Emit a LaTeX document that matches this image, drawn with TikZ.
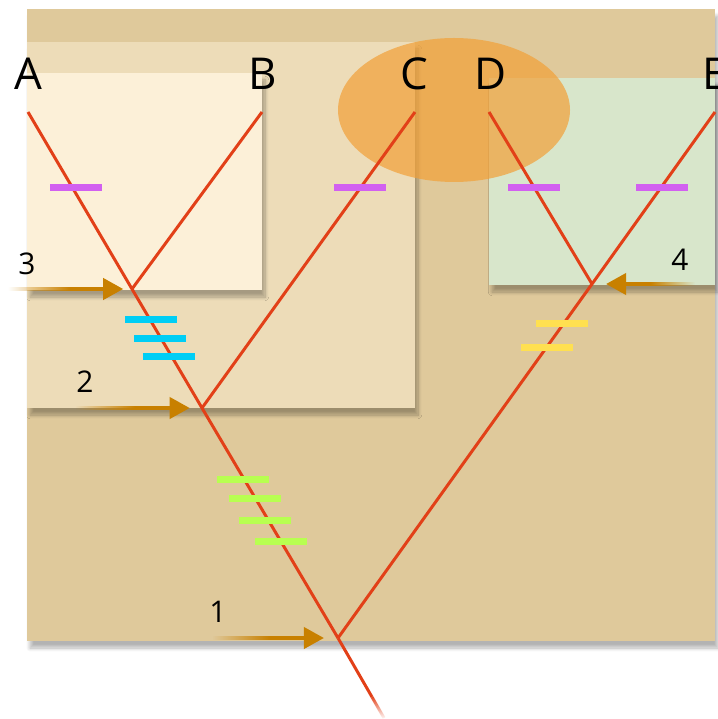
\documentclass[tikz,border=0pt]{standalone}
\usepackage{fontspec}
\setmainfont{Open Sans}
\usepackage{tikz}
\usetikzlibrary{arrows.meta,calc,fadings,shadows.blur}
\definecolor{outertan}{RGB}{223,201,155}
\definecolor{middletan}{RGB}{237,220,184}
\definecolor{innercream}{RGB}{252,240,216}
\definecolor{softgreen}{RGB}{216,230,203}
\definecolor{bloborange}{RGB}{242,160,55}
\definecolor{branchred}{RGB}{226,64,24}
\definecolor{arrowgold}{RGB}{200,128,0}
\definecolor{tickpink}{RGB}{210,96,240}
\definecolor{tickcyan}{RGB}{0,206,245}
\definecolor{ticklime}{RGB}{184,255,80}
\definecolor{tickyellow}{RGB}{255,224,80}
\tikzfading[name=tailfade,left color=transparent!100,right color=transparent!0]
\tikzset{
  panel/.style={draw=none,blur shadow={shadow xshift=0.6mm,
    shadow yshift=-1.4mm,shadow blur steps=10,shadow opacity=30}},
  branch/.style={draw=branchred,line width=1.7pt},
  taxon/.style={font=\fontsize{25}{30}\selectfont,inner sep=0pt},
  event/.style={font=\fontsize{17}{20}\selectfont,inner sep=0pt},
  tick/.style={minimum width=1.04cm,minimum height=0.14cm,inner sep=0pt,
    draw=none},
  split/.style={-{Triangle[length=4mm,width=4.2mm]},line width=2.2pt,
    draw=arrowgold},
  splittail/.style={fill=arrowgold,path fading=tailfade}
}

\begin{document}
\begin{tikzpicture}[x=0.02cm,y=-0.02cm]
  \useasboundingbox (0,0) rectangle (717,719);
  % panels
  \fill[panel,outertan] (27,9) rectangle (715,641);
  \fill[panel,middletan] (27,42) rectangle (415,408);
  \fill[panel,innercream] (27,73) rectangle (262,290);
  \fill[panel,softgreen] (489,78) rectangle (715,285);
  \fill[bloborange,opacity=0.7] (454,110) ellipse [x radius=116,y radius=72];
  % taxa
  \node[taxon] (labA) at (28,74) {A};
  \node[taxon] (labB) at (263,74) {B};
  \node[taxon] (labC) at (414,74) {C};
  \node[taxon] (labD) at (491,74) {D};
  \node[taxon] (labE) at (715,74) {E};
  \coordinate (tipA) at (28,112);
  \coordinate (tipB) at (262,112);
  \coordinate (tipC) at (415,112);
  \coordinate (tipD) at (489,112);
  \coordinate (tipE) at (715,112);
  \coordinate (n3) at (132,289);
  \coordinate (n2) at (202,408);
  \coordinate (n4) at (592,284);
  \coordinate (root) at (338,638);
  \coordinate (stemmid) at (372,697);
  \coordinate (stem) at (384,718);
  % tree
  \draw[branch] (tipA) -- (n3) -- (n2) -- (root);
  \draw[branch] (tipB) -- (n3);
  \draw[branch] (tipC) -- (n2);
  \draw[branch] (tipD) -- (n4);
  \draw[branch] (tipE) -- (n4) -- (root);
  \draw[branch] (root) -- (stemmid);
  \draw[branch,path fading=south] (stemmid) -- (stem);
  % character changes
  \foreach \n/\x/\y/\c in {a/76/188/tickpink,c/360/188/tickpink,
      d/534/188/tickpink,e/662/188/tickpink,
      k1/151/319/tickcyan,k2/160/338/tickcyan,k3/169/356/tickcyan,
      g1/243/479/ticklime,g2/255/498/ticklime,g3/265/520/ticklime,
      g4/281/541/ticklime,y1/562/323/tickyellow,y2/547/347/tickyellow}
    \node[tick,fill=\c] (tick\n) at (\x,\y) {};
  % speciation events
  \node[event] (ev3) at (27,264) {3};
  \node[event] (ev2) at (85,382) {2};
  \node[event] (ev1) at (218,612) {1};
  \node[event] (ev4) at (680,260) {4};
  \coordinate (from3) at (8,289);
  \coordinate (mid3) at (70,289);
  \coordinate (from2) at (75,408);
  \coordinate (mid2) at (135,408);
  \coordinate (from1) at (212,638);
  \coordinate (mid1) at (270,638);
  \coordinate (from4) at (695,284);
  \coordinate (mid4) at (650,284);
  \fill[splittail] ($(from3)+(0,-2)$) rectangle ($(mid3)+(0,2)$);
  \fill[splittail] ($(from2)+(0,-2)$) rectangle ($(mid2)+(0,2)$);
  \fill[splittail] ($(from1)+(0,-2)$) rectangle ($(mid1)+(0,2)$);
  \fill[splittail,fading angle=180] ($(mid4)+(0,-2)$) rectangle ($(from4)+(0,2)$);
  \draw[split] (mid3) -- ([xshift=-5]n3);
  \draw[split] (mid2) -- ([xshift=-7]n2);
  \draw[split] (mid1) -- ([xshift=-8]root);
  \draw[split] (mid4) -- ([xshift=8]n4);
\end{tikzpicture}
\end{document}
